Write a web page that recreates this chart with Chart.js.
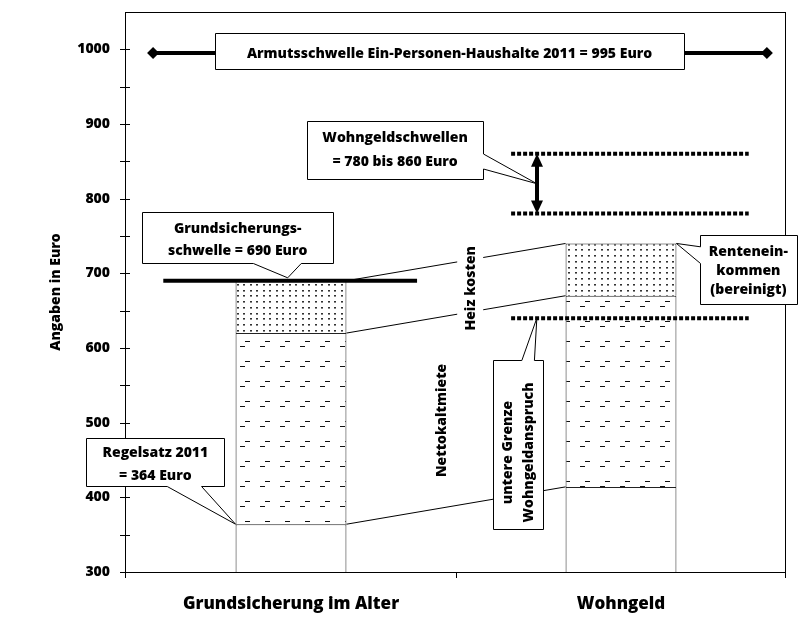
<!DOCTYPE html>
<html>
<head>
<meta charset="utf-8">
<script src="https://cdn.jsdelivr.net/npm/chart.js@4.4.1/dist/chart.umd.min.js"></script>
<style>
html,body{margin:0;padding:0;background:#fff;}
canvas{display:block;}
</style>
</head>
<body>
<canvas id="c" width="803" height="633"></canvas>
<script>
// ---------------- data ----------------
const categories = ['Grundsicherung im Alter', 'Wohngeld'];
const basisWerte = [364, 414];        // Regelsatz 2011 / Renteneinkommen (bereinigt)
const nettokaltmiete = [256, 256];    // Nettokaltmiete
const heizkosten = [70, 70];          // Heizkosten
const yMin = 300, yMax = 1050, yStep = 50;
const yLabelEvery = 100;

const armutsschwelle = 995;
const grundsicherungsschwelle = 690;
const wohngeldschwellen = [780, 860];
const untereGrenze = 640;

// horizontal extents of reference lines (category units, 0 = first category centre)
const armutX = [-0.418, 1.442];
const grundX = [-0.387, 0.382];
const wohngeldLineX = [0.667, 1.387];
const markerX = 0.745;

const FONT = '"Open Sans", "DejaVu Sans", sans-serif';
const W = 800;

// ---------------- patterns ----------------
function makeDashPattern() {
  const c = document.createElement('canvas');
  c.width = 20; c.height = 20;
  const g = c.getContext('2d');
  g.fillStyle = '#fff'; g.fillRect(0, 0, 20, 20);
  g.fillStyle = '#111';
  g.fillRect(0, 6, 5, 1);
  g.fillRect(5, 1, 5, 1);
  return g.createPattern(c, 'repeat');
}
function makeDotPattern() {
  const c = document.createElement('canvas');
  c.width = 13; c.height = 23;
  const g = c.getContext('2d');
  g.fillStyle = '#fff'; g.fillRect(0, 0, 13, 23);
  g.fillStyle = '#333';
  [2, 8, 14, 19].forEach(y => { g.fillRect(3, y, 2, 1); g.fillRect(9, y, 2, 1); });
  g.fillStyle = '#888';
  [3, 9, 15, 20].forEach(y => { g.fillRect(3, y, 2, 1); g.fillRect(9, y, 2, 1); });
  return g.createPattern(c, 'repeat');
}
const dashPattern = makeDashPattern();
const dotPattern = makeDotPattern();

// ---------------- helpers ----------------
function callout(ctx, x0, y0, x1, y1, p) {
  const r = v => Math.round(v) + 0.5;
  x0 = r(x0); x1 = r(x1); y0 = r(y0); y1 = r(y1);
  ctx.beginPath();
  ctx.moveTo(x0, y0);
  if (p && p.side === 'top') { ctx.lineTo(p.a, y0); ctx.lineTo(p.tx, p.ty); ctx.lineTo(p.b, y0); }
  ctx.lineTo(x1, y0);
  if (p && p.side === 'right') { ctx.lineTo(x1, p.a); ctx.lineTo(p.tx, p.ty); ctx.lineTo(x1, p.b); }
  ctx.lineTo(x1, y1);
  if (p && p.side === 'bottom') { ctx.lineTo(p.b, y1); ctx.lineTo(p.tx, p.ty); ctx.lineTo(p.a, y1); }
  ctx.lineTo(x0, y1);
  if (p && p.side === 'left') { ctx.lineTo(x0, p.b); ctx.lineTo(p.tx, p.ty); ctx.lineTo(x0, p.a); }
  ctx.closePath();
  ctx.fillStyle = '#fff'; ctx.fill();
  ctx.lineWidth = 1; ctx.strokeStyle = '#000'; ctx.stroke();
}
function textLines(ctx, lines, cx, cy, spacing, size) {
  ctx.font = W + ' ' + size + 'px ' + FONT;
  ctx.fillStyle = '#000'; ctx.textAlign = 'center'; ctx.textBaseline = 'middle';
  const n = lines.length;
  lines.forEach((t, i) => ctx.fillText(t, cx, cy + (i - (n - 1) / 2) * spacing));
}

const annotationPlugin = {
  id: 'annot',
  afterDatasetsDraw(chart) {
    const ctx = chart.ctx;
    const ca = chart.chartArea;
    const xl = chart.scales.xl, ys = chart.scales.y, xs = chart.scales.x;
    const X = u => xl.getPixelForValue(u);
    const Y = v => ys.getPixelForValue(v);
    ctx.save();

    // frame
    ctx.strokeStyle = '#000'; ctx.lineWidth = 1;
    ctx.strokeRect(ca.left - 0.5, ca.top + 0.5, ca.right - ca.left, ca.bottom - ca.top);
    // y ticks crossing axis
    ctx.beginPath();
    for (let v = yMin; v < yMax; v += yStep) {
      const y = Math.round(Y(v)) + 0.5;
      ctx.moveTo(ca.left - 6, y); ctx.lineTo(ca.left + 4, y);
    }
    // x ticks at category boundaries
    const mid = (xs.getPixelForValue(0) + xs.getPixelForValue(1)) / 2;
    [ca.left - 0.5, Math.round(mid) + 0.5, ca.right - 0.5].forEach(x => {
      ctx.moveTo(x, ca.bottom); ctx.lineTo(x, ca.bottom + 6);
    });
    ctx.stroke();

    // connector lines between the bars
    ctx.beginPath(); ctx.lineWidth = 1; ctx.strokeStyle = '#000';
    [0, 1, 2].forEach(di => {
      const a = chart.getDatasetMeta(di).data[0];
      const b = chart.getDatasetMeta(di).data[1];
      ctx.moveTo(a.x + a.width / 2, a.y);
      ctx.lineTo(b.x - b.width / 2, b.y);
    });
    ctx.stroke();

    // rotated segment labels
    function rotLabel(text, u, v, size) {
      ctx.save();
      ctx.translate(X(u), Y(v));
      ctx.rotate(-Math.PI / 2);
      ctx.font = W + ' ' + size + 'px ' + FONT;
      const w = ctx.measureText(text).width;
      ctx.fillStyle = '#fff';
      ctx.fillRect(-w / 2 - 3, -13, w + 6, 26);
      ctx.fillStyle = '#000'; ctx.textAlign = 'center'; ctx.textBaseline = 'middle';
      ctx.fillText(text, 0, 1);
      ctx.restore();
    }
    rotLabel('Heiz kosten', 0.543, 680, 14);
    rotLabel('Nettokaltmiete', 0.455, 503, 14);

    // Armutsschwelle box
    callout(ctx, X(-0.230), Y(1021.8), X(1.191), Y(973.6), null);
    textLines(ctx, ['Armutsschwelle Ein-Personen-Haushalte 2011 = 995 Euro'],
      (X(-0.230) + X(1.191)) / 2, Y(armutsschwelle) + 1, 0, 14);

    // Wohngeldschwellen box
    const wMid = (wohngeldschwellen[0] + wohngeldschwellen[1]) / 2;
    callout(ctx, X(0.049), Y(904), X(0.582), Y(826.2),
      { side: 'right', a: Y(859.8), b: Y(839.7), tx: X(markerX), ty: Y(wMid) });
    textLines(ctx, ['Wohngeldschwellen', '= 780 bis 860 Euro'],
      (X(0.049) + X(0.582)) / 2, (Y(904) + Y(826.2)) / 2, 24, 14);

    // Grundsicherungsschwelle box
    callout(ctx, X(-0.451), Y(782), X(0.128), Y(713.7),
      { side: 'bottom', a: X(-0.114), b: X(0.031), tx: X(-0.01), ty: Y(grundsicherungsschwelle + 4) });
    textLines(ctx, ['Grundsicherungs-', 'schwelle = 690 Euro'],
      (X(-0.451) + X(0.128)) / 2, (Y(782) + Y(713.7)) / 2 + 2, 22, 14);

    // Regelsatz box
    const base0 = chart.getDatasetMeta(0).data[0];
    callout(ctx, X(-0.62), Y(479.3), X(-0.202), Y(414.9),
      { side: 'bottom', a: X(-0.375), b: X(-0.271), tx: base0.x - base0.width / 2, ty: base0.y });
    textLines(ctx, ['Regelsatz 2011', '= 364 Euro'],
      (X(-0.62) + X(-0.202)) / 2, (Y(479.3) + Y(414.9)) / 2 + 2, 23, 14);

    // Renteneinkommen box
    const heiz1 = chart.getDatasetMeta(2).data[1];
    callout(ctx, X(1.239), Y(751.2), X(1.533), Y(658.8),
      { side: 'left', a: Y(735.5), b: Y(713.2), tx: heiz1.x + heiz1.width / 2, ty: heiz1.y });
    textLines(ctx, ['Rentenein-', 'kommen', '(bereinigt)'],
      (X(1.239) + X(1.533)) / 2, (Y(751.2) + Y(658.8)) / 2 + 1, 19, 14);

    // untere Grenze box (rotated text)
    callout(ctx, X(0.613), Y(583.6), X(0.764), Y(357.1),
      { side: 'top', a: X(0.6995), b: X(0.7376), tx: X(markerX), ty: Y(untereGrenze) });
    ctx.save();
    ctx.translate((X(0.613) + X(0.764)) / 2, Y(460));
    ctx.rotate(-Math.PI / 2);
    textLines(ctx, ['untere Grenze', 'Wohngeldanspruch'], 0, 0, 21, 14);
    ctx.restore();

    // double arrow between the Wohngeld thresholds
    const ax = Math.round(X(markerX));
    const yt = Y(wohngeldschwellen[1]), yb = Y(wohngeldschwellen[0]);
    const hw = 6, hh = 13;
    ctx.fillStyle = '#000'; ctx.strokeStyle = '#000'; ctx.lineWidth = 4;
    ctx.beginPath(); ctx.moveTo(ax, yt + hh - 1); ctx.lineTo(ax, yb - hh + 1); ctx.stroke();
    ctx.beginPath(); ctx.moveTo(ax, yt); ctx.lineTo(ax - hw, yt + hh); ctx.lineTo(ax + hw, yt + hh); ctx.closePath(); ctx.fill();
    ctx.beginPath(); ctx.moveTo(ax, yb); ctx.lineTo(ax - hw, yb - hh); ctx.lineTo(ax + hw, yb - hh); ctx.closePath(); ctx.fill();

    ctx.restore();
  }
};

function hLine(xs, y, opts) {
  return Object.assign({
    type: 'line',
    data: xs.map(x => ({ x: x, y: y })),
    xAxisID: 'xl',
    borderColor: '#000',
    borderWidth: 4,
    pointRadius: 0,
    order: 0,
    fill: false,
    borderCapStyle: 'butt'
  }, opts);
}

const barCommon = {
  type: 'bar', xAxisID: 'x', stack: 'bars', order: 1, grouped: false,
  borderColor: '#222', borderWidth: 1,
  categoryPercentage: 1.0, barPercentage: 0.336
};

new Chart(document.getElementById('c'), {
  type: 'bar',
  data: {
    labels: categories,
    datasets: [
      Object.assign({ label: 'Regelsatz / Renteneinkommen', data: basisWerte, backgroundColor: '#fff' }, barCommon),
      Object.assign({ label: 'Nettokaltmiete', data: nettokaltmiete, backgroundColor: dashPattern }, barCommon),
      Object.assign({ label: 'Heizkosten', data: heizkosten, backgroundColor: dotPattern }, barCommon),
      hLine(armutX, armutsschwelle, { stack: 'l1', pointRadius: 6, pointStyle: 'rectRot', pointBackgroundColor: '#000', pointBorderWidth: 0, borderWidth: 4 }),
      hLine(grundX, grundsicherungsschwelle, { stack: 'l2', borderWidth: 4 }),
      hLine(wohngeldLineX, wohngeldschwellen[1], { stack: 'l3', borderDash: [4, 2] }),
      hLine(wohngeldLineX, wohngeldschwellen[0], { stack: 'l4', borderDash: [4, 2] }),
      hLine(wohngeldLineX, untereGrenze, { stack: 'l5', borderDash: [4, 2] })
    ]
  },
  options: {
    responsive: false,
    animation: false,
    devicePixelRatio: 1,
    layout: { padding: { top: 12, right: 17, left: 0, bottom: 0 } },
    plugins: { legend: { display: false }, tooltip: { enabled: false } },
    scales: {
      x: {
        type: 'category', stacked: true, offset: true,
        grid: { display: false, drawTicks: false, offset: true }, border: { display: false },
        ticks: { color: '#000', font: { family: FONT, size: 17, weight: W }, padding: 22, maxRotation: 0 },
        afterFit: s => { s.height = 61; s.paddingLeft = 0; s.paddingRight = 0; }
      },
      xl: {
        type: 'linear', min: -0.5, max: 1.5, display: false, position: 'bottom',
        offset: false, grid: { offset: false },
        afterFit: s => { s.paddingLeft = 0; s.paddingRight = 0; }
      },
      y: {
        stacked: true, min: yMin, max: yMax, beginAtZero: false,
        grid: { display: false, drawTicks: false }, border: { display: false },
        ticks: {
          stepSize: yStep, autoSkip: false, padding: 16, color: '#000',
          font: { family: FONT, size: 14, weight: W },
          callback: v => (v % yLabelEvery === 0 && v < yMax) ? String(v) : ''
        },
        title: { display: true, text: 'Angaben in Euro', color: '#000', font: { family: FONT, size: 14, weight: W }, padding: { top: 48, bottom: 0 } },
        afterFit: s => { s.width = 126; s.paddingTop = 0; s.paddingBottom = 0; }
      }
    }
  },
  plugins: [annotationPlugin]
});
</script>
</body>
</html>
